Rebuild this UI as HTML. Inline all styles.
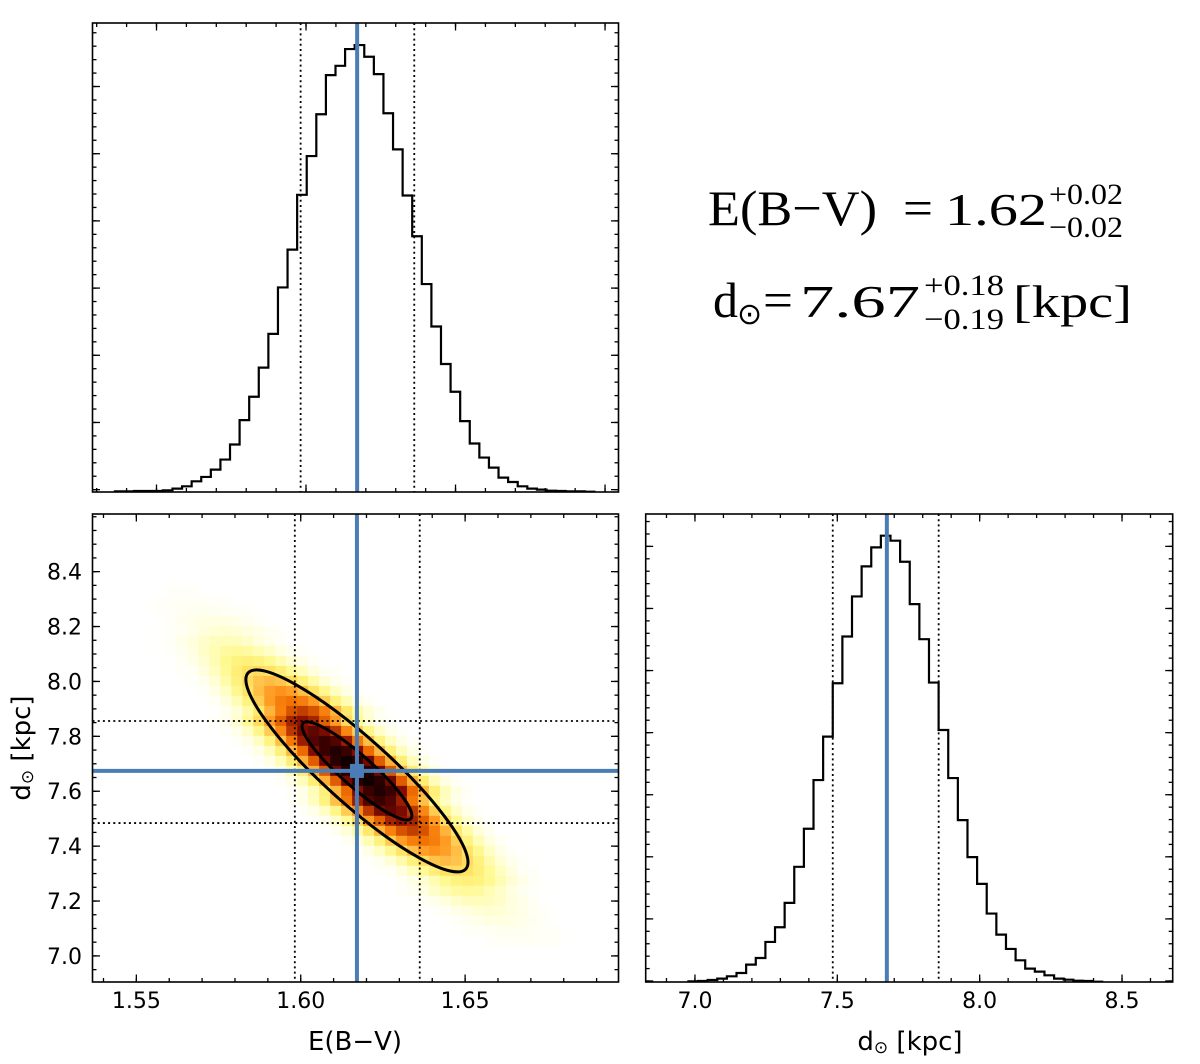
<!DOCTYPE html>
<html><head><meta charset="utf-8"><style>
html,body{margin:0;padding:0;background:#fff;}
svg{display:block;}
</style></head><body>
<svg id="fig" width="1200" height="1064" viewBox="0 0 1200 1064" xmlns="http://www.w3.org/2000/svg" font-family="'DejaVu Sans', 'Liberation Sans', sans-serif">
<rect width="1200" height="1064" fill="#fff"/>
<defs>
<clipPath id="clipBL"><rect x="92.5" y="514" width="526" height="468"/></clipPath>
<clipPath id="clipTL"><rect x="92.5" y="23" width="526" height="469"/></clipPath>
<clipPath id="clipBR"><rect x="645.7" y="514" width="527" height="468"/></clipPath>
</defs>
<g id="gTL"></g>
<g id="gBL"></g>
<g id="gBR"></g>
<g font-family="'Liberation Serif', 'DejaVu Serif', serif" fill="#000">
  <text x="708" y="225" font-size="50" textLength="169" lengthAdjust="spacingAndGlyphs">E(B−V)</text>
  <text x="903" y="225" font-size="50" textLength="30" lengthAdjust="spacingAndGlyphs">=</text>
  <text x="945" y="225" font-size="46" textLength="102" lengthAdjust="spacingAndGlyphs">1.62</text>
  <text x="1049" y="204" font-size="30" textLength="74" lengthAdjust="spacingAndGlyphs">+0.02</text>
  <text x="1049" y="237" font-size="30" textLength="74" lengthAdjust="spacingAndGlyphs">−0.02</text>
  <text x="713" y="317" font-size="50">d</text>
  <text x="737" y="324" font-size="30" font-family="'DejaVu Sans', sans-serif">⊙</text>
  <text x="763" y="317" font-size="50" textLength="30" lengthAdjust="spacingAndGlyphs">=</text>
  <text x="800" y="317" font-size="46" textLength="120" lengthAdjust="spacingAndGlyphs">7.67</text>
  <text x="924" y="295" font-size="30" textLength="80" lengthAdjust="spacingAndGlyphs">+0.18</text>
  <text x="924" y="329" font-size="30" textLength="80" lengthAdjust="spacingAndGlyphs">−0.19</text>
  <text x="1013" y="317" font-size="46" textLength="119" lengthAdjust="spacingAndGlyphs">[kpc]</text>
</g>
<text x="355" y="1050" font-size="26" text-anchor="middle">E(B−V)</text>
<text x="910" y="1050" font-size="26" text-anchor="middle">d<tspan font-size="17" dy="3">⊙</tspan><tspan dy="-3"> [kpc]</tspan></text>
<text transform="translate(30,748) rotate(-90)" font-size="26" text-anchor="middle">d<tspan font-size="17" dy="3">⊙</tspan><tspan dy="-3"> [kpc]</tspan></text>
</svg>
<script>
// ---------- data ----------
const ebvHistStart = 1.5361;
const ebvHistBinWidth = 0.003207;
const ebvHistCounts = [2,2,3,3,3,5,10,17,32,45,67,97,142,215,285,372,473,612,725,889,1005,1130,1247,1275,1325,1337,1302,1250,1133,1025,887,765,622,495,383,300,212,145,103,73,43,30,17,10,7,4,3,2,2,1];
const distHistStart = 6.977;
const distHistBinWidth = 0.0338;
const distHistCounts = [2,3,6,10,17,27,52,72,120,164,237,345,459,605,735,895,1035,1155,1245,1302,1337,1322,1259,1132,1027,897,755,611,485,374,294,205,142,99,65,40,31,20,10,7,4,3,1];
const bestEbv = 1.6171;
const bestDist = 7.674;
const ebvQuantiles = [1.5982, 1.6362];
const distQuantiles = [7.484, 7.856];
const xTicksEbv = [1.55, 1.60, 1.65];
const xTickLabelsEbv = ["1.55", "1.60", "1.65"];
const yTicksDist = [7.0, 7.2, 7.4, 7.6, 7.8, 8.0, 8.2, 8.4];
const yTickLabelsDist = ["7.0", "7.2", "7.4", "7.6", "7.8", "8.0", "8.2", "8.4"];
const xTicksDist = [7.0, 7.5, 8.0, 8.5];
const xTickLabelsDist = ["7.0", "7.5", "8.0", "8.5"];
// 2D histogram: bin grid + per-row start column and density values (per mille of peak)
const heatXStart = 1.5555;
const heatXStep = 0.00334;
const heatYStart = 8.384;
const heatYStep = 0.0364;
const heatStartCol = [1,1,-1,-1,0,0,0,0,1,2,2,3,4,5,5,6,7,8,9,10,11,12,12,13,14,15,16,17,18,20,21,21,23,24,26,27,29];
const heatValues = [
 [1],
 [2,2,2],
 [1,2,3,4,4,4,3,2,1],
 [1,2,3,5,6,7,6,5,3,2,1],
 [1,3,6,9,12,13,12,9,6,3,1],
 [1,2,5,10,15,20,22,20,15,10,5,2,1],
 [1,4,9,16,26,34,37,34,26,16,9,4,1],
 [1,2,6,14,27,42,56,61,56,42,27,14,6,2,1],
 [1,4,10,22,42,66,87,95,87,66,42,22,10,4,1],
 [2,5,15,33,63,100,131,143,131,100,63,33,15,5,2],
 [1,2,8,21,48,91,144,189,207,189,144,91,48,21,8,2,1],
 [1,3,11,30,67,127,200,263,288,263,200,127,67,30,11,3,1],
 [1,5,15,40,90,170,268,352,385,352,268,170,90,40,15,5,1],
 [1,6,19,51,116,219,345,453,496,453,345,219,116,51,19,6,1],
 [2,7,23,63,144,272,428,561,615,561,428,272,144,63,23,7,2],
 [2,9,28,75,171,324,509,668,732,668,509,324,171,75,28,9,2],
 [3,10,32,86,196,371,584,766,839,766,584,371,196,86,32,10,3],
 [3,11,35,95,216,409,644,845,925,845,644,409,216,95,35,11,3],
 [3,12,37,101,230,434,683,896,981,896,683,434,230,101,37,12,3],
 [3,12,38,103,234,442,696,913,1000,913,696,442,234,103,38,12,3],
 [3,12,37,101,230,434,683,896,981,896,683,434,230,101,37,12,3],
 [3,11,35,95,216,409,644,845,925,845,644,409,216,95,35,11,3],
 [3,10,32,86,196,371,584,766,839,766,584,371,196,86,32,10,3],
 [2,9,28,75,171,324,509,668,732,668,509,324,171,75,28,9,2],
 [2,7,23,63,144,272,428,561,615,561,428,272,144,63,23,7,2],
 [1,6,19,51,116,219,345,453,496,453,345,219,116,51,19,6,1],
 [1,5,15,40,90,170,268,352,385,352,268,170,90,40,15,5,1],
 [1,3,11,30,67,127,200,263,288,263,200,127,67,30,11,3,1],
 [1,2,8,21,48,91,144,189,207,189,144,91,48,21,8,2,1],
 [2,5,15,33,63,100,131,143,131,100,63,33,15,5,2],
 [1,4,10,22,42,66,87,95,87,66,42,22,10,4,1],
 [1,2,6,14,27,42,56,61,56,42,27,14,6,2,1],
 [1,4,9,16,26,34,37,34,26,16,9,4,1],
 [1,2,5,10,15,20,22,20,15,10,5,2,1],
 [1,3,6,9,12,13,12,9,6,3,1],
 [1,2,3,5,6,7,6,5,3,2,1],
 [1,2,3,4,4,4,3,2,1]
];
// contour ellipses: [semi-major px, semi-minor px, angle deg]
const contourSemiMajor = [72, 146.5];
const contourSemiMinor = [15.5, 32.7];
const contourAngle = [41.5, 42];

// ---------- scales ----------
const NS = "http://www.w3.org/2000/svg";
function lin(d0,d1,r0,r1){ return v => r0 + (v-d0)/(d1-d0)*(r1-r0); }
const TL = {x0:92.5,x1:618.5,y0:23,y1:492};
const BL = {x0:92.5,x1:618.5,y0:514,y1:982};
const BR = {x0:645.7,x1:1172.7,y0:514,y1:982};
const xTL = lin(1.5286,1.7045,TL.x0,TL.x1), yTL = lin(0,1403,TL.y1,TL.y0);
const xBL = lin(1.53666,1.69666,BL.x0,BL.x1), yBL = lin(6.905,8.610,BL.y1,BL.y0);
const xBR = lin(6.827,8.678,BR.x0,BR.x1), yBR = lin(0,1402,BR.y1,BR.y0);

function mk(tag, attrs, parent){
  const e = document.createElementNS(NS, tag);
  for (const k in attrs) e.setAttribute(k, attrs[k]);
  parent.appendChild(e); return e;
}
const gTL = document.getElementById('gTL'), gBL = document.getElementById('gBL'), gBR = document.getElementById('gBR');

const stops = [[0,255,255,255],[0.002,255,255,250],[0.01,255,255,232],[0.03,255,254,195],[0.07,255,248,140],[0.12,255,232,105],[0.18,255,200,80],[0.28,255,150,30],[0.4,240,110,0],[0.5,190,60,0],[0.62,140,15,0],[0.8,70,0,0],[1,10,0,0]];
function cmap(t){
  for (let i=1;i<stops.length;i++){
    if (t<=stops[i][0]){ const a=stops[i-1], b=stops[i]; const f=(t-a[0])/(b[0]-a[0]);
      return `rgb(${Math.round(a[1]+f*(b[1]-a[1]))},${Math.round(a[2]+f*(b[2]-a[2]))},${Math.round(a[3]+f*(b[3]-a[3]))})`; }
  }
  return 'rgb(10,0,0)';
}

// ---------- heatmap ----------
const heatG = mk('g',{'clip-path':'url(#clipBL)'},gBL);


heatValues.forEach((row,j)=>{
  const yTop = heatYStart - j*heatYStep, yBot = yTop - heatYStep;
  row.forEach((v,k)=>{
    const i = heatStartCol[j]+k;
    const xl = heatXStart + i*heatXStep, xr = xl + heatXStep;
    const r = mk('rect',{x:xBL(xl),y:yBL(yTop),width:xBL(xr)-xBL(xl)+0.6,height:yBL(yBot)-yBL(yTop)+0.6,fill:cmap(v/1000)},heatG);
    
    
  });
});
// contours
contourSemiMajor.forEach((a,i)=>{
  const e = mk('ellipse',{cx:0,cy:0,rx:a,ry:contourSemiMinor[i],fill:'none',stroke:'#000','stroke-width':3,
    transform:`translate(${xBL(bestEbv)},${yBL(bestDist)}) rotate(${contourAngle[i]})`},gBL);
  
  
});

// ---------- dotted quantile lines ----------
function vline(g,x,y0,y1,attrs,name){ const l=mk('line',Object.assign({x1:x,x2:x,y1:y0,y2:y1},attrs),g);   return l; }
function hline(g,y,x0,x1,attrs,name){ const l=mk('line',Object.assign({x1:x0,x2:x1,y1:y,y2:y},attrs),g);   return l; }
const dot = {stroke:'#000','stroke-width':1.8,'stroke-dasharray':'2 3.2'};
ebvQuantiles.forEach(q=>{ vline(gTL,xTL(q),TL.y0,TL.y1,dot,'ebv-quantile-line'); vline(gBL,xBL(q),BL.y0,BL.y1,dot,'ebv-quantile-line'); });
distQuantiles.forEach(q=>{ hline(gBL,yBL(q),BL.x0,BL.x1,dot,'dist-quantile-line'); vline(gBR,xBR(q),BR.y0,BR.y1,dot,'dist-quantile-line'); });

// ---------- histograms ----------
function stepPath(start,w,counts,xs,ys){
  let d = `M${xs(start)},${ys(0)}`;
  counts.forEach((c,i)=>{ const xl=xs(start+i*w), xr=xs(start+(i+1)*w); d+=` L${xl},${ys(c)} L${xr},${ys(c)}`; });
  d += ` L${xs(start+counts.length*w)},${ys(0)}`;
  return d;
}
const pTL = mk('path',{d:stepPath(ebvHistStart,ebvHistBinWidth,ebvHistCounts,xTL,yTL),fill:'none',stroke:'#000','stroke-width':2.2,'clip-path':'url(#clipTL)'},gTL);


const pBR = mk('path',{d:stepPath(distHistStart,distHistBinWidth,distHistCounts,xBR,yBR),fill:'none',stroke:'#000','stroke-width':2.2,'clip-path':'url(#clipBR)'},gBR);



// ---------- truth lines ----------
const blue = {stroke:'#4a7db5','stroke-width':4};
vline(gTL,xTL(bestEbv),TL.y0,TL.y1,blue,'ebv-best-line');
vline(gBL,xBL(bestEbv),BL.y0,BL.y1,blue,'ebv-best-line');
hline(gBL,yBL(bestDist),BL.x0,BL.x1,blue,'dist-best-line');
vline(gBR,xBR(bestDist),BR.y0,BR.y1,blue,'dist-best-line');
const sq = mk('rect',{x:xBL(bestEbv)-7,y:yBL(bestDist)-7,width:14,height:14,fill:'#4a7db5'},gBL);



// ---------- frames & ticks ----------
function frame(g,P){
  const r = mk('rect',{x:P.x0,y:P.y0,width:P.x1-P.x0,height:P.y1-P.y0,fill:'none',stroke:'#000','stroke-width':1.6},g);
  
  
}
function xt(g,P,xs,vals,len){
  vals.forEach(v=>{ const x=xs(v); if(x<P.x0+0.5||x>P.x1-0.5) return;
    mk('line',{x1:x,x2:x,y1:P.y1,y2:P.y1-len,stroke:'#000','stroke-width':1.3},g);
    mk('line',{x1:x,x2:x,y1:P.y0,y2:P.y0+len,stroke:'#000','stroke-width':1.3},g); });
}
function yt(g,P,ys,vals,len){
  vals.forEach(v=>{ const y=ys(v); if(y<P.y0+0.5||y>P.y1-0.5) return;
    mk('line',{x1:P.x0,x2:P.x0+len,y1:y,y2:y,stroke:'#000','stroke-width':1.3},g);
    mk('line',{x1:P.x1,x2:P.x1-len,y1:y,y2:y,stroke:'#000','stroke-width':1.3},g); });
}
function range(a,b,s){ const o=[]; for(let v=a; v<=b+1e-9; v+=s) o.push(Math.round(v*1000)/1000); return o; }
// top-left
xt(gTL,TL,xTL,range(1.53,1.70,0.01),4); xt(gTL,TL,xTL,range(1.55,1.70,0.05),7.5);
yt(gTL,TL,yTL,range(0,1400,40.2).map(v=>v+7),4); yt(gTL,TL,yTL,range(0,1400,201).map(v=>v+7),7.5);
frame(gTL,TL);
// bottom-left
xt(gBL,BL,xBL,range(1.54,1.69,0.01),4); xt(gBL,BL,xBL,xTicksEbv,7.5);
yt(gBL,BL,yBL,range(6.95,8.6,0.05),4); yt(gBL,BL,yBL,yTicksDist,7.5);
frame(gBL,BL);
// bottom-right
xt(gBR,BR,xBR,range(6.9,8.6,0.1),4); xt(gBR,BR,xBR,xTicksDist,7.5);
yt(gBR,BR,yBR,range(0,1400,37.2).map(v=>v+3),4); yt(gBR,BR,yBR,range(0,1400,186).map(v=>v+3),7.5);
frame(gBR,BR);

// tick labels
const fig = document.getElementById('fig');
xTicksEbv.forEach((v,i)=>{
  const t = mk('text',{x:xBL(v),y:1008,'font-size':22,'text-anchor':'middle'},fig);
  t.textContent = xTickLabelsEbv[i];
  
  
});
xTicksDist.forEach((v,i)=>{
  const t = mk('text',{x:xBR(v),y:1008,'font-size':22,'text-anchor':'middle'},fig);
  t.textContent = xTickLabelsDist[i];
  
  
});
yTicksDist.forEach((v,i)=>{
  const t = mk('text',{x:82,y:yBL(v)+8,'font-size':22,'text-anchor':'end'},fig);
  t.textContent = yTickLabelsDist[i];
  
  
});
</script>
</body></html>
